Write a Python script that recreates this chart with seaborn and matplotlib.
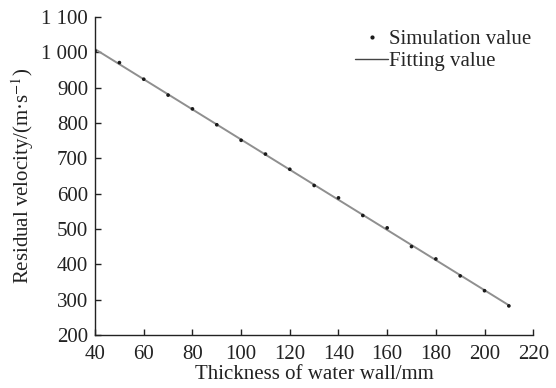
import pandas as pd
import matplotlib.pyplot as plt
import seaborn as sns
from matplotlib.lines import Line2D

# data
thickness = [40, 50, 60, 70, 80, 90, 100, 110, 120, 130, 140, 150, 160, 170, 180, 190, 200, 210]
velocity = [1004, 971, 924, 879, 840, 795, 751, 712, 669, 623, 588, 538, 503, 450, 415, 367, 325, 282]

x_ticks = [40, 60, 80, 100, 120, 140, 160, 180, 200, 220]
y_ticks = [200, 300, 400, 500, 600, 700, 800, 900, 1000, 1100]
y_tick_labels = ["200", "300", "400", "500", "600", "700", "800", "900", "1 000", "1 100"]

df = pd.DataFrame({"thickness": thickness, "velocity": velocity})

sns.set_style("ticks")
plt.rcParams["font.family"] = ["Liberation Serif", "DejaVu Serif"]
plt.rcParams["mathtext.fontset"] = "stix"

fig, ax = plt.subplots(figsize=(5.56, 3.88), dpi=100)

# fitted line (least squares)
sns.regplot(data=df, x="thickness", y="velocity", scatter=False, ci=None,
            line_kws={"color": "#8f8f8f", "linewidth": 1.4}, ax=ax)
sns.scatterplot(data=df, x="thickness", y="velocity", color="#1a1a1a",
                s=7, edgecolor="none", zorder=3, ax=ax)

ax.set_xlim(40, 220)
ax.set_ylim(200, 1100)
ax.set_xticks(x_ticks)
ax.set_yticks(y_ticks)
ax.set_yticklabels(y_tick_labels)
ax.tick_params(direction="in", length=4, width=1, labelsize=15, colors="#222222")
ax.tick_params(axis="x", pad=7)
ax.tick_params(axis="y", pad=5)
for side in ["top", "right"]:
    ax.spines[side].set_visible(False)
for side in ["left", "bottom"]:
    ax.spines[side].set_linewidth(1.0)
    ax.spines[side].set_color("#222222")

ax.set_xlabel("Thickness of water wall/mm", fontsize=15, color="#222222", labelpad=1)
ax.set_ylabel("Residual velocity/(m·s$^{-1}$)", fontsize=15, color="#222222", labelpad=4)

handles = [
    Line2D([], [], marker="o", linestyle="none", color="#1a1a1a", markersize=2),
    Line2D([], [], color="#444444", linewidth=1.0),
]
ax.legend(handles, ["Simulation value", "Fitting value"], loc="upper right",
          bbox_to_anchor=(1.025, 1.0), frameon=False, fontsize=15,
          handlelength=1.6, handletextpad=0.05, labelspacing=0.1, borderaxespad=0.2)

plt.subplots_adjust(left=0.171, right=0.959, top=0.956, bottom=0.137)
plt.savefig("out.png", dpi=100)
plt.close()
